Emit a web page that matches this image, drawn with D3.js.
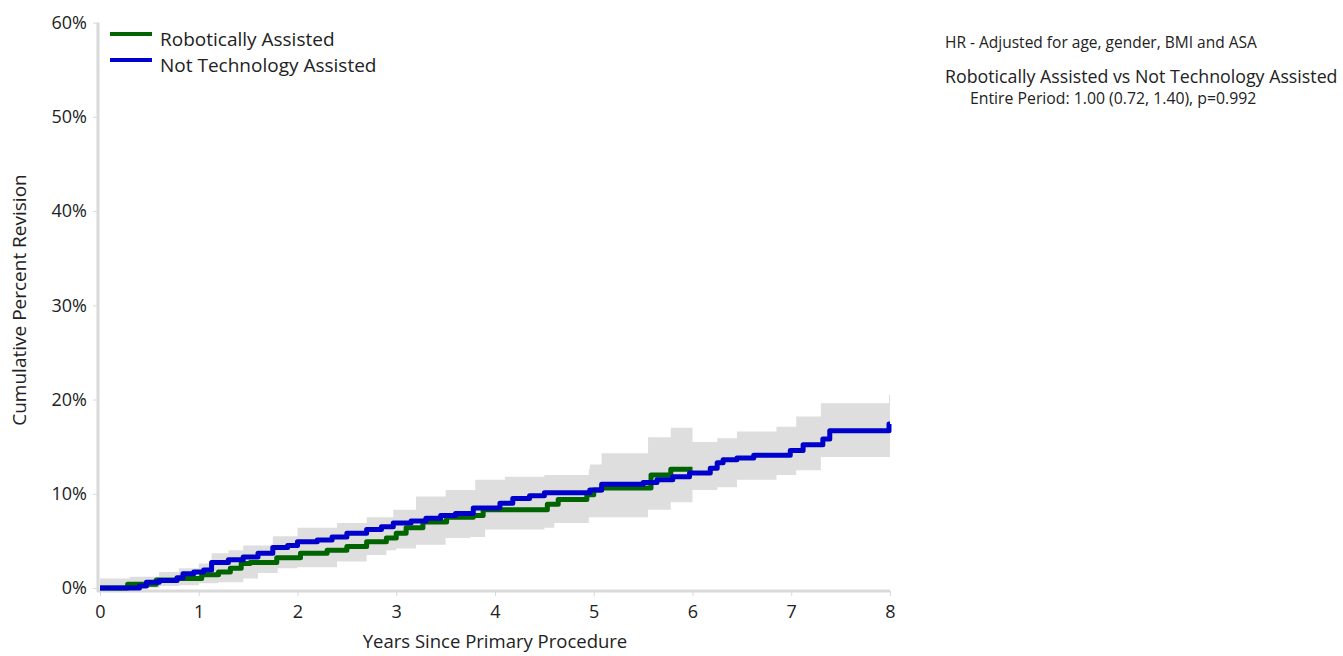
<!DOCTYPE html>
<html>
<head>
<meta charset="utf-8">
<script src="https://cdn.jsdelivr.net/npm/d3@7"></script>
<style>
  body { margin: 0; background: #fff; }
  text { font-family: "Open Sans", "Noto Sans", sans-serif; fill: #222; }
</style>
</head>
<body>
<div id="chart"></div>
<script>
// data: [years, cumulative percent revision]
var robotic = [
  [0, 0], [0.28, 0.4], [0.57, 0.85], [0.78, 1.0], [1.03, 1.4], [1.2, 1.7],
  [1.32, 2.1], [1.43, 2.6], [1.52, 2.7], [1.79, 3.2], [2.03, 3.7], [2.3, 4.0],
  [2.5, 4.4], [2.7, 4.9], [2.9, 5.3], [3.0, 5.8], [3.1, 6.4], [3.27, 7.0],
  [3.51, 7.5], [3.78, 7.7], [3.88, 8.3], [4.53, 8.9], [4.64, 9.4], [4.93, 9.9],
  [5.0, 10.4], [5.08, 10.6], [5.58, 12.0], [5.78, 12.6], [6.0, 12.6]
];
var notTech = [
  [0, 0], [0.4, 0.2], [0.47, 0.6], [0.6, 0.8], [0.78, 1.1], [0.84, 1.5],
  [0.95, 1.7], [1.05, 1.9], [1.13, 2.7], [1.3, 3.0], [1.45, 3.3], [1.6, 3.7],
  [1.75, 4.3], [1.9, 4.5], [2.0, 4.9], [2.2, 5.1], [2.35, 5.4], [2.5, 5.8],
  [2.7, 6.2], [2.85, 6.5], [2.97, 6.9], [3.15, 7.1], [3.3, 7.4], [3.45, 7.7],
  [3.6, 7.9], [3.78, 8.5], [4.05, 9.0], [4.18, 9.5], [4.35, 9.8], [4.5, 10.1],
  [4.96, 10.4], [5.08, 11.0], [5.5, 11.2], [5.64, 11.5], [5.8, 11.8],
  [5.97, 12.2], [6.18, 12.7], [6.25, 13.3], [6.31, 13.6], [6.45, 13.8],
  [6.62, 14.1], [6.99, 14.6], [7.12, 15.2], [7.32, 15.8], [7.39, 16.7],
  [7.99, 17.4], [8.0, 17.4]
];
// confidence bands: [years, lower, upper]
var roboticCI = [
  [0, 0, 1.0], [0.3, 0, 1.2], [0.6, 0.2, 1.7], [0.8, 0.3, 2.0], [1.0, 0.5, 2.6],
  [1.2, 0.6, 3.0], [1.45, 1.0, 3.8], [1.6, 1.6, 4.2], [1.8, 2.1, 4.5],
  [2.0, 2.2, 5.2], [2.4, 2.8, 5.6], [2.7, 3.5, 6.4], [2.9, 4.0, 7.0],
  [3.0, 4.2, 7.6], [3.2, 4.6, 8.4], [3.5, 5.3, 9.2], [3.75, 5.4, 9.6],
  [3.9, 6.2, 10.4], [4.5, 6.4, 11.4], [4.6, 6.9, 11.8], [4.95, 7.5, 12.6],
  [5.1, 7.5, 13.0], [5.55, 8.3, 16.0], [5.78, 9.1, 17.0], [6.0, 9.1, 17.0]
];
var notTechCI = [
  [0, 0, 0.8], [0.4, 0, 1.0], [0.6, 0.3, 1.7], [0.8, 0.6, 2.1], [1.13, 1.5, 3.7],
  [1.3, 1.8, 4.0], [1.45, 2.0, 4.5], [1.75, 2.9, 5.5], [2.0, 3.6, 6.4],
  [2.4, 4.2, 6.9], [2.7, 4.8, 7.5], [2.97, 5.4, 8.3], [3.2, 5.8, 9.7],
  [3.5, 6.4, 10.4], [3.8, 6.9, 11.5], [4.1, 7.4, 11.8], [4.5, 7.8, 12.0],
  [4.96, 8.2, 13.1], [5.08, 8.6, 14.3], [5.6, 9.5, 14.6], [5.97, 10.4, 15.5],
  [6.25, 10.7, 15.9], [6.45, 11.5, 16.6], [6.85, 12.0, 17.1], [7.05, 12.5, 18.2],
  [7.3, 13.9, 19.6], [7.99, 13.9, 20.5], [8.0, 13.9, 20.5]
];
var xTicks = [0, 1, 2, 3, 4, 5, 6, 7, 8];
var yTicks = [0, 10, 20, 30, 40, 50, 60];
var seriesNames = ['Robotically Assisted', 'Not Technology Assisted'];
var seriesColors = ['#006400', '#0000cc'];
var hrTitle = 'HR - Adjusted for age, gender, BMI and ASA';
var hrCompare = 'Robotically Assisted vs Not Technology Assisted';
var hrResult = 'Entire Period: 1.00 (0.72, 1.40), p=0.992';

var width = 1343, height = 656;
var svg = d3.select('#chart').append('svg')
    .attr('width', width).attr('height', height);

var x = d3.scaleLinear().domain([0, 8]).range([100, 890]);
var y = d3.scaleLinear().domain([0, 60]).range([588, 22.6]);

// bands
var band = d3.area().curve(d3.curveStepAfter)
    .x(function(d) { return x(d[0]); })
    .y0(function(d) { return y(d[1]); })
    .y1(function(d) { return y(d[2]); });
[roboticCI, notTechCI].forEach(function(ci) {
  svg.append('path').attr('d', band(ci)).attr('fill', '#dedede');
});

// axes
var yAxis = svg.append('g').attr('transform', 'translate(98,0)')
    .call(d3.axisLeft(y).tickValues(yTicks).tickSize(5).tickPadding(6)
      .tickFormat(function(d) { return d + '%'; }));
var xAxis = svg.append('g').attr('transform', 'translate(0,591)')
    .call(d3.axisBottom(x).tickValues(xTicks).tickSize(5).tickPadding(9)
      .tickSizeOuter(0));
yAxis.select('.domain').attr('d', 'M0,' + y(60) + 'V' + 592);
xAxis.select('.domain').attr('d', 'M97,0H' + x(8));
[yAxis, xAxis].forEach(function(a) {
  a.select('.domain').attr('stroke', '#d9d9d9').attr('stroke-width', 3);
  a.selectAll('.tick line').attr('stroke', '#d9d9d9').attr('stroke-width', 1);
  a.selectAll('.tick text').attr('font-size', 18).attr('fill', '#222')
    .style('font-family', '"Open Sans", sans-serif');
});

// lines
var line = d3.line().curve(d3.curveStepAfter)
    .x(function(d) { return x(d[0]); })
    .y(function(d) { return y(d[1]); });
[robotic, notTech].forEach(function(s, i) {
  svg.append('path').attr('d', line(s)).attr('fill', 'none')
    .attr('stroke', seriesColors[i]).attr('stroke-width', 5)
    .attr('stroke-linejoin', 'round');
});

// axis titles
svg.append('text').attr('x', 495).attr('y', 648)
    .attr('text-anchor', 'middle').attr('font-size', 18.5)
    .text('Years Since Primary Procedure');
svg.append('text').attr('transform', 'translate(26,300) rotate(-90)')
    .attr('text-anchor', 'middle').attr('font-size', 19)
    .text('Cumulative Percent Revision');

// legend
seriesNames.forEach(function(name, i) {
  var ly = 34 + i * 26;
  svg.append('line').attr('x1', 110).attr('x2', 152)
    .attr('y1', ly).attr('y2', ly)
    .attr('stroke', seriesColors[i]).attr('stroke-width', 4);
  svg.append('text').attr('x', 160).attr('y', ly + 12)
    .attr('font-size', 19).text(name);
});

// hazard ratio notes
svg.append('text').attr('x', 945).attr('y', 48).attr('font-size', 15.5).text(hrTitle);
svg.append('text').attr('x', 945).attr('y', 83).attr('font-size', 17.8).text(hrCompare);
svg.append('text').attr('x', 970).attr('y', 104).attr('font-size', 15.8).text(hrResult);
</script>
</body>
</html>
